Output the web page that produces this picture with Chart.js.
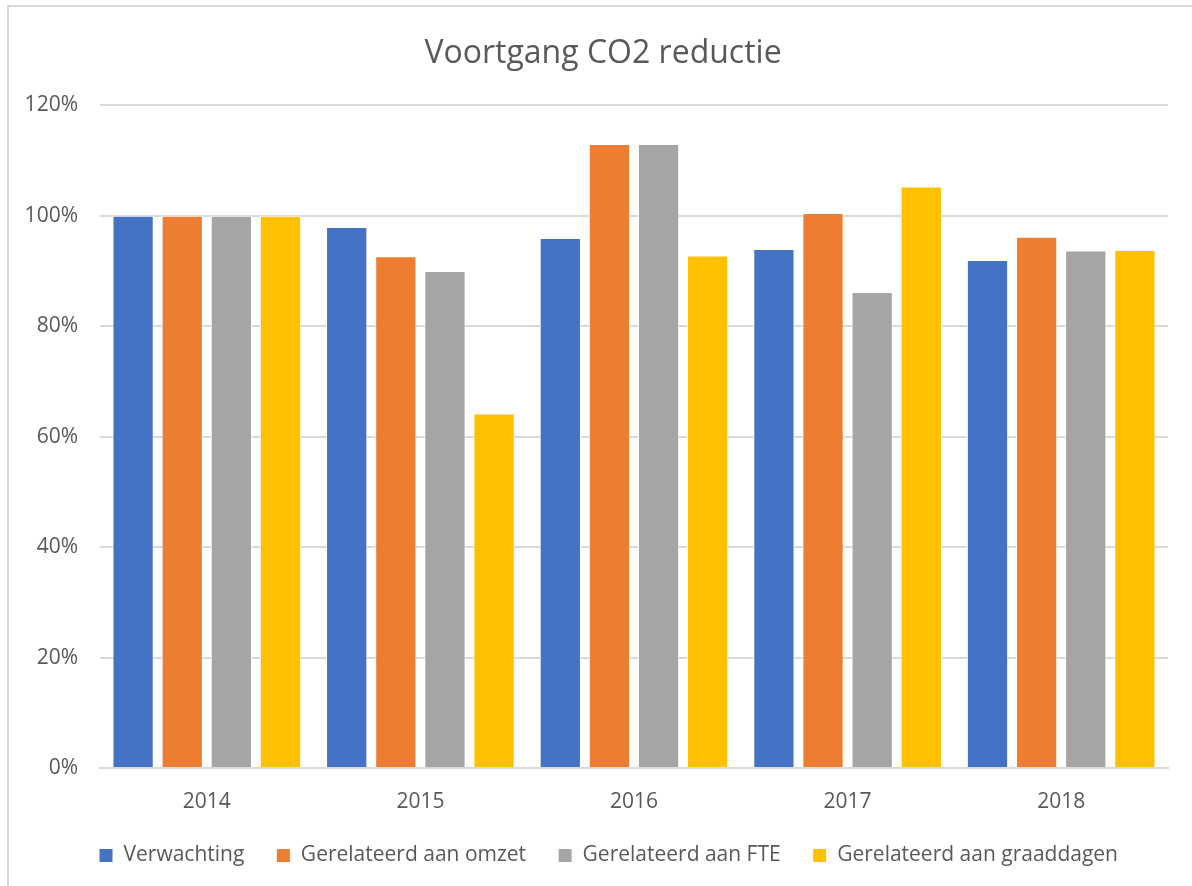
<!DOCTYPE html>
<html>
<head>
<meta charset="utf-8">
<script src="https://cdn.jsdelivr.net/npm/chart.js@4"></script>
<style>
    html, body { margin: 0; padding: 0; background: #fff; overflow: hidden; }
    #wrap { position: relative; width: 1192px; height: 886px; }
    #frame { position: absolute; left: 7px; top: 5px; width: 1300px; height: 1000px; border: 2px solid #d9d9d9; box-sizing: border-box; }
    #chartBox { position: absolute; left: 0; top: 0; width: 1192px; height: 886px; }
</style>
</head>
<body>
<div id="wrap">
    <div id="frame"></div>
    <div id="chartBox"><canvas id="co2Chart"></canvas></div>
</div>
<script>
// Chart data (percentages)
const years = ['2014', '2015', '2016', '2017', '2018'];
const verwachting = [100, 98, 96, 94, 92];
const omzet = [100, 92.7, 113, 100.5, 96.2];
const fte = [100, 90, 113, 86.2, 93.7];
const graaddagen = [100, 64.2, 92.8, 105.3, 93.8];
const yTicks = [0, 20, 40, 60, 80, 100, 120];

const seriesNames = ['Verwachting', 'Gerelateerd aan omzet', 'Gerelateerd aan FTE', 'Gerelateerd aan graaddagen'];
const seriesColors = ['#4472C4', '#ED7D31', '#A5A5A5', '#FFC000'];

const textColor = '#595959';
const fontFamily = "'Open Sans', 'Noto Sans', sans-serif";

function makeDataset(i, values) {
    return {
        label: seriesNames[i],
        data: values,
        backgroundColor: seriesColors[i],
        borderColor: '#ffffff',
        borderWidth: 1,
        barPercentage: 0.84,
        categoryPercentage: 0.92
    };
}

// Title and legend are centred a bit right of the canvas centre, like the original
const shiftBlocks = {
    id: 'shiftBlocks',
    afterLayout(chart) {
        if (chart.titleBlock) chart.titleBlock.left = 38;
        if (chart.legend) chart.legend.left = 49;
    }
};

try {
    const ctx = document.getElementById('co2Chart');
    new Chart(ctx, {
        type: 'bar',
        data: {
            labels: years,
            datasets: [
                makeDataset(0, verwachting),
                makeDataset(1, omzet),
                makeDataset(2, fte),
                makeDataset(3, graaddagen)
            ]
        },
        plugins: [shiftBlocks],
        options: {
            responsive: true,
            maintainAspectRatio: false,
            animation: false,
            layout: {
                padding: { top: 0, right: 24, bottom: 10, left: 0 }
            },
            plugins: {
                title: {
                    display: true,
                    text: 'Voortgang CO2 reductie',
                    color: textColor,
                    font: { family: fontFamily, size: 32, weight: 'normal' },
                    padding: { top: 35, bottom: 32 }
                },
                legend: {
                    position: 'bottom',
                    labels: {
                        color: textColor,
                        font: { family: fontFamily, size: 21 },
                        boxWidth: 14,
                        boxHeight: 14,
                        padding: 32
                    }
                },
                tooltip: { enabled: false }
            },
            scales: {
                x: {
                    afterFit: function(scale) { scale.height = 45; },
                    grid: { display: false, drawTicks: false },
                    border: { display: true, color: '#d9d9d9', width: 2 },
                    ticks: {
                        color: textColor,
                        font: { family: fontFamily, size: 21 },
                        padding: 21
                    }
                },
                y: {
                    min: 0,
                    max: 120,
                    afterFit: function(scale) { scale.width = 100; },
                    afterBuildTicks: function(scale) {
                        scale.ticks = yTicks.map(v => ({ value: v }));
                    },
                    grid: { color: '#d9d9d9', lineWidth: 2, drawTicks: false },
                    border: { display: false },
                    ticks: {
                        color: textColor,
                        font: { family: fontFamily, size: 21 },
                        padding: 22,
                        callback: v => v + '%'
                    }
                }
            }
        }
    });
} catch (error) {
    console.error('Error creating chart:', error);
}
</script>
</body>
</html>
